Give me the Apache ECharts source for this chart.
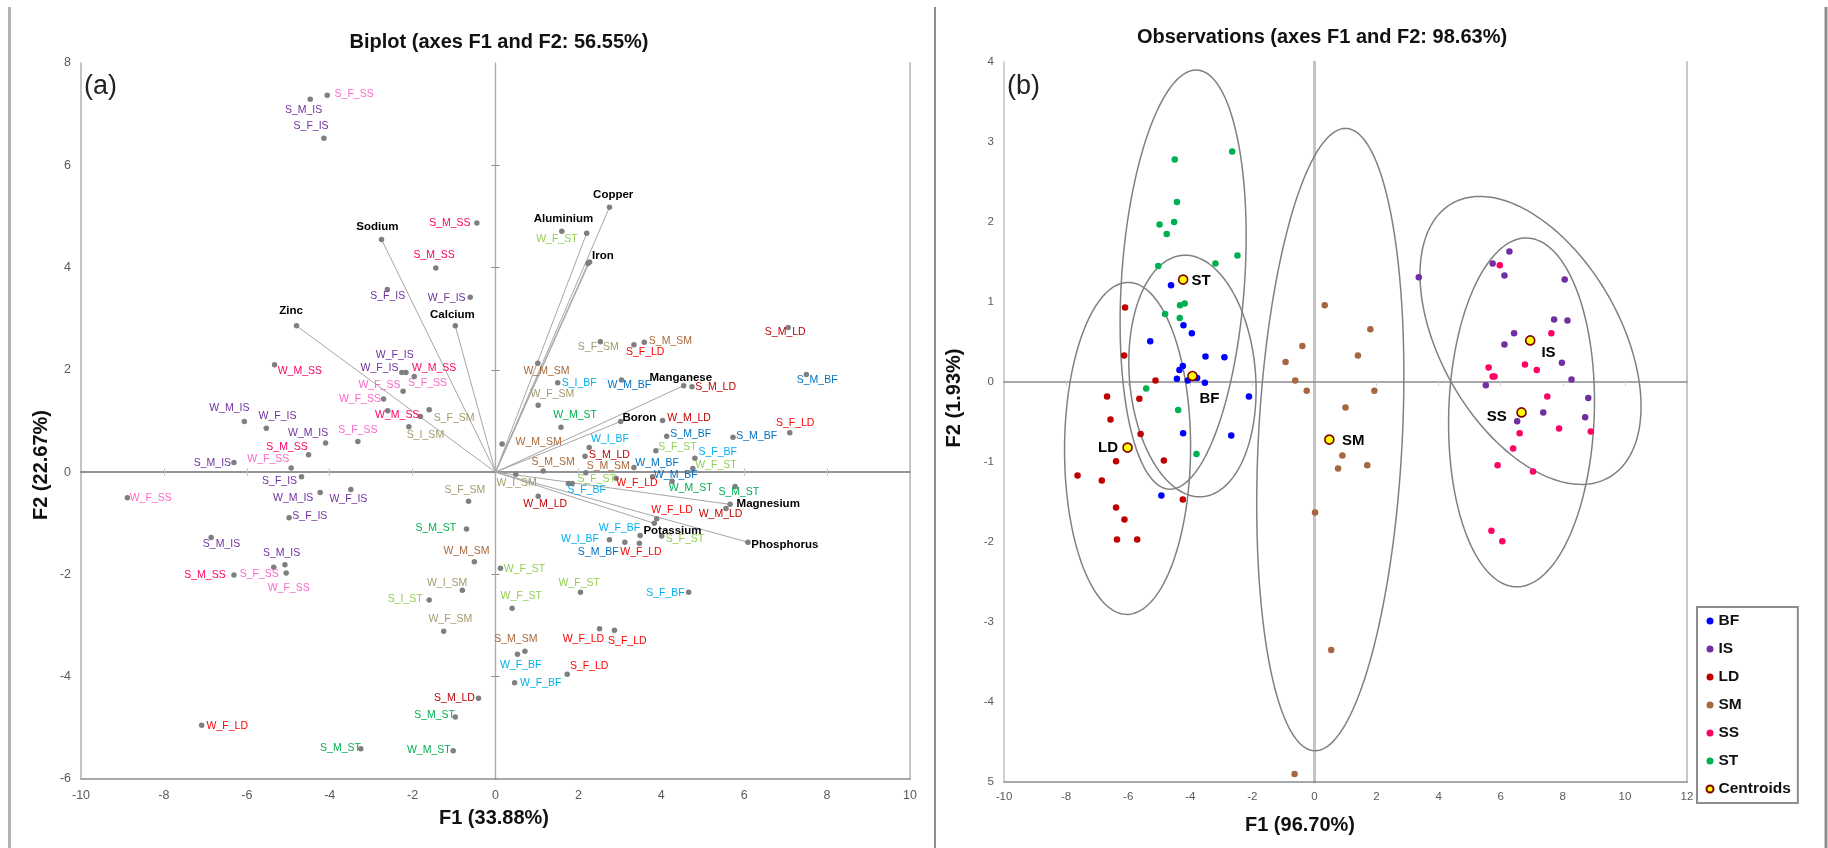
<!DOCTYPE html>
<html><head><meta charset="utf-8">
<style>html,body{margin:0;padding:0;background:#fff}#c{width:1828px;height:848px}</style>
<script src="https://cdn.jsdelivr.net/npm/echarts@6/dist/echarts.min.js"></script>
</head><body><div id="c"></div>
<script>
// ---- Panel (a): biplot ----
const obsNames = ['S_F_SS','S_M_IS','S_F_IS','S_M_SS','S_M_SS','S_F_IS','W_F_IS','W_M_SS','W_F_IS','W_F_IS','W_M_SS','W_F_SS','S_F_SS','W_M_SS','S_F_SM','S_I_SM','W_F_SS','W_M_IS','W_F_IS','W_M_IS','S_F_SS','S_M_SS','W_F_SS','S_M_IS','S_F_IS','W_M_IS','W_F_IS','W_F_SS','S_F_IS','S_M_IS','S_M_IS','S_F_SS','S_M_SS','W_F_SS','S_F_SM','S_M_ST','W_M_SM','W_I_SM','S_I_ST','W_F_SM','S_M_LD','S_M_ST','W_F_LD','S_M_ST','W_M_ST','W_F_ST','S_F_SM','S_F_LD','S_M_SM','S_M_LD','S_M_BF','W_M_SM','S_I_BF','W_M_BF','S_M_LD','W_F_SM','W_M_ST','W_M_LD','S_F_LD','W_I_BF','W_M_SM','S_M_BF','S_M_BF','S_F_ST','S_F_BF','S_M_LD','S_M_SM','S_M_SM','W_M_BF','W_F_ST','W_M_BF','W_I_SM','S_F_ST','W_F_LD','S_F_BF','W_M_ST','S_M_ST','W_M_LD','W_F_LD','W_M_LD','W_F_BF','W_I_BF','S_M_BF','W_F_LD','S_F_ST','W_F_ST','W_F_ST','W_F_ST','S_F_BF','W_F_LD','S_F_LD','S_M_SM','W_F_BF','S_F_LD','W_F_BF'];
const obsF1 = [-4.06,-4.47,-4.14,-0.45,-1.44,-2.61,-0.61,-5.33,-2.26,-2.16,-1.96,-2.23,-2.60,-1.81,-1.60,-2.09,-2.70,-6.06,-5.53,-4.10,-3.32,-4.51,-4.93,-6.31,-4.68,-4.23,-3.49,-8.88,-4.98,-6.86,-5.08,-5.35,-6.31,-5.05,-0.65,-0.70,-0.51,-0.80,-1.60,-1.25,-0.41,-0.97,-7.09,-3.25,-1.02,1.60,2.53,3.34,3.59,7.06,7.50,1.02,1.50,3.04,4.74,1.03,1.58,4.03,7.10,2.26,0.16,4.13,5.73,3.87,4.81,2.16,1.15,2.18,3.34,4.76,3.79,0.49,1.76,2.91,1.85,4.26,5.78,1.03,3.89,5.56,3.49,2.75,3.12,3.47,4.01,0.12,2.05,0.40,4.66,2.51,2.87,0.71,0.53,1.73,0.46];
const obsF2 = [7.37,7.29,6.53,4.87,3.99,3.57,3.42,2.10,1.95,1.95,1.87,1.58,1.20,1.09,1.22,0.89,1.43,0.99,0.86,0.57,0.60,0.34,0.08,0.19,-0.09,-0.40,-0.34,-0.50,-0.89,-1.28,-1.81,-1.86,-2.01,-1.97,-0.57,-1.11,-1.75,-2.31,-2.50,-3.11,-4.42,-4.79,-4.95,-5.41,-5.45,4.71,2.55,2.49,2.54,2.83,1.91,2.13,1.75,1.80,1.67,1.31,0.88,1.01,0.77,0.48,0.55,0.70,0.68,0.42,0.27,0.31,0.02,-0.01,0.09,0.07,-0.09,-0.04,-0.22,-0.12,-0.22,-0.18,-0.28,-0.47,-0.91,-0.71,-1.24,-1.32,-1.37,-1.39,-1.25,-1.88,-2.35,-2.66,-2.35,-3.06,-3.09,-3.50,-3.56,-3.95,-4.12];
const obsLabelF1 = [-3.41,-4.63,-4.45,-1.10,-1.48,-2.60,-1.18,-4.72,-2.43,-2.80,-1.48,-2.80,-1.64,-2.37,-1.00,-1.69,-3.27,-6.42,-5.26,-4.52,-3.32,-5.03,-5.48,-6.83,-5.21,-4.88,-3.55,-8.32,-4.48,-6.61,-5.16,-5.70,-7.01,-4.99,-0.74,-1.44,-0.70,-1.17,-2.18,-1.09,-0.99,-1.47,-6.47,-3.74,-1.61,1.48,2.48,3.61,4.22,6.99,7.76,1.23,2.02,3.23,5.31,1.37,1.92,4.67,7.23,2.76,1.04,4.71,6.30,4.39,5.36,2.75,1.39,2.72,3.90,5.32,4.35,0.51,2.44,3.41,2.20,4.71,5.87,1.20,4.26,5.43,2.99,2.04,2.48,3.51,4.57,0.70,2.02,0.62,4.10,2.12,3.18,0.49,0.61,2.26,1.09];
const obsLabelF2 = [7.39,7.08,6.77,4.87,4.25,3.45,3.41,1.98,2.29,2.04,2.04,1.71,1.74,1.12,1.06,0.73,1.43,1.25,1.10,0.77,0.83,0.49,0.25,0.18,-0.17,-0.50,-0.52,-0.51,-0.86,-1.41,-1.58,-1.99,-2.01,-2.26,-0.35,-1.09,-1.54,-2.16,-2.48,-2.87,-4.41,-4.76,-4.96,-5.39,-5.43,4.56,2.44,2.35,2.57,2.74,1.80,1.98,1.74,1.71,1.67,1.52,1.12,1.06,0.96,0.65,0.58,0.75,0.71,0.49,0.40,0.34,0.20,0.12,0.18,0.14,-0.05,-0.22,-0.13,-0.22,-0.35,-0.31,-0.40,-0.62,-0.75,-0.82,-1.09,-1.30,-1.56,-1.56,-1.31,-1.89,-2.16,-2.42,-2.36,-3.26,-3.30,-3.26,-3.77,-3.79,-4.12];
const varNames = ['Copper','Aluminium','Iron','','Sodium','Calcium','Zinc','Manganese','Boron','Magnesium','Potassium','Phosphorus'];
const varF1 = [2.75,2.20,2.23,2.27,-2.75,-0.97,-4.80,4.54,3.02,5.66,3.83,6.09];
const varF2 = [5.18,4.67,4.08,4.11,4.55,2.86,2.86,1.69,0.99,-0.63,-1.00,-1.37];
const varLabelF1 = [2.84,1.64,2.59,2.59,-2.85,-1.04,-4.93,4.47,3.47,6.58,4.27,6.98];
const varLabelF2 = [5.43,4.95,4.23,4.23,4.79,3.07,3.15,1.84,1.07,-0.62,-1.14,-1.42];
const labelColourBySuffix = {M_ST:'#00b050',F_ST:'#92d050',I_ST:'#92d050',M_SM:'#a8693a',F_SM:'#a39a6c',I_SM:'#a39a6c',M_BF:'#0070c0',F_BF:'#00b0f0',I_BF:'#00b0f0',M_LD:'#c00000',F_LD:'#ff0000',M_IS:'#7030a0',F_IS:'#7030a0',M_SS:'#ff0066',F_SS:'#ff66cc'};
const biplotXTicks = [-8,-6,-4,-2,2,4,6,8];
const biplotYTicks = [-4,-2,2,4,6];

// ---- Panel (b): observations ----
const groups = ['BF','IS','LD','SM','SS','ST'];
const groupColours = ['#0000ff','#7030a0','#c00000','#a5673f','#ff0066','#00b050'];
const bfF1 = [-4.62,-4.22,-3.95,-5.29,-3.51,-2.90,-4.24,-4.35,-4.43,-4.08,-3.78,-3.53,-2.11,-4.23,-2.68,-4.93];
const bfF2 = [1.21,0.71,0.61,0.51,0.32,0.31,0.20,0.15,0.04,0.02,0.05,-0.01,-0.18,-0.64,-0.67,-1.42];
const isF1 = [6.28,5.74,6.12,3.36,8.06,7.72,8.15,6.43,6.12,7.97,8.28,5.52,8.82,7.37,8.72,6.53];
const isF2 = [1.63,1.48,1.33,1.31,1.28,0.78,0.77,0.61,0.47,0.24,0.03,-0.04,-0.20,-0.38,-0.44,-0.49];
const ldF1 = [-6.10,-6.13,-5.12,-6.68,-5.64,-6.57,-5.60,-4.85,-6.39,-7.63,-6.85,-4.24,-6.39,-6.12,-6.36,-5.71];
const ldF2 = [0.93,0.33,0.02,-0.18,-0.21,-0.47,-0.65,-0.98,-0.99,-1.17,-1.23,-1.47,-1.57,-1.72,-1.97,-1.97];
const smF1 = [0.33,1.80,-0.39,1.40,-0.93,-0.62,-0.25,1.93,1.00,0.90,1.70,0.76,0.02,0.54,-0.64];
const smF2 = [0.96,0.66,0.45,0.33,0.25,0.02,-0.11,-0.11,-0.32,-0.92,-1.04,-1.08,-1.63,-3.35,-4.90];
const ssF1 = [5.97,7.63,6.78,5.61,7.16,5.74,5.80,7.50,7.88,8.90,6.61,6.40,5.90,7.04,5.70,6.05];
const ssF2 = [1.46,0.61,0.22,0.18,0.15,0.07,0.07,-0.18,-0.58,-0.62,-0.64,-0.83,-1.04,-1.12,-1.86,-1.99];
const stF1 = [-2.65,-4.50,-4.43,-4.52,-4.99,-4.76,-2.48,-3.19,-5.03,-4.33,-4.18,-4.81,-4.34,-5.42,-4.39,-3.80];
const stF2 = [2.88,2.78,2.25,2.00,1.97,1.85,1.58,1.48,1.45,0.96,0.98,0.85,0.80,-0.08,-0.35,-0.90];
const centroidNames = ['ST','BF','LD','SM','IS','SS'];
const centroidF1 = [-4.23,-3.93,-6.02,0.48,6.95,6.67];
const centroidF2 = [1.28,0.075,-0.82,-0.72,0.52,-0.38];
const centroidLabelF1 = [-3.65,-3.38,-6.65,1.25,7.54,5.87];
const centroidLabelF2 = [1.27,-0.21,-0.825,-0.73,0.36,-0.43];
// Confidence ellipses: centre, half width, half height,
// and how far along the half width the topmost point sits.
const ellipseF1 = [-4.23,-3.93,-6.02,0.51,6.96,6.67];
const ellipseF2 = [1.28,0.075,-0.83,-0.72,0.52,-0.38];
const ellipseHalfWidth = [2.03,2.05,2.03,2.37,3.56,2.35];
const ellipseHalfHeight = [2.62,1.51,2.075,3.89,1.80,2.18];
const ellipseTopShift = [0.206,-0.115,0.01,0.207,-0.458,0.064];
const obsXTicks = [-8,-6,-4,-2,2,4,6,8,10];
const obsYTickText = {'-5':'5'};

const SANS = '"Liberation Sans", Arial, sans-serif';
const zip = (xs, ys) => xs.map((x, i) => [x, ys[i]]);
const GRID_A = 0, GRID_B = 1;

function axisPair(dim, grid, base) {
  const mainLine = dim === 'x' ? {position:'bottom'} : {position:'left'};
  return Object.assign({
    type:'value', gridIndex:grid, min:base.min, max:base.max, interval:base.interval,
    splitLine:{show:false}, axisTick:{show:false},
    axisLine:{show:true, onZero:false, lineStyle:{color:base.lineColour, width:1.5}},
    axisLabel:{show:true, color:'#595959', fontFamily:SANS, fontSize:base.fontSize, margin:base.margin,
      showMinLabel:true, showMaxLabel:true, hideOverlap:false,
      formatter:v => base.text && base.text[v] !== undefined ? base.text[v] : String(v)}
  }, mainLine);
}
function zeroAxis(dim, grid, base, otherIndex, tick, inside) {
  return {
    type:'value', gridIndex:grid, min:base.min, max:base.max, interval:base.interval,
    position: dim === 'x' ? 'bottom' : 'left',
    splitLine:{show:false}, axisLabel:{show:false},
    axisLine:{show:true, onZero:true, onZeroAxisIndex:otherIndex, lineStyle:{color:tick.lineColour, width:tick.lineWidth}},
    axisTick:{show:tick.ticks.length>0, inside:inside, length:tick.length, customValues:tick.ticks, lineStyle:{color:tick.colour}}
  };
}
function farYAxis(grid, base, colour) {
  return {type:'value', gridIndex:grid, min:base.min, max:base.max, interval:base.interval, position:'right',
    splitLine:{show:false}, axisLabel:{show:false}, axisTick:{show:false},
    axisLine:{show:true, onZero:false, lineStyle:{color:colour, width:2}}};
}
const aX = {min:-10,max:10,interval:2,lineColour:'#8c8c8c',fontSize:12.5,margin:10};
const aY = {min:-6,max:8,interval:2,lineColour:'#b0b0b0',fontSize:12.5,margin:10};
const bX = {min:-10,max:12,interval:2,lineColour:'#8c8c8c',fontSize:11.5,margin:9};
const bY = {min:-5,max:4,interval:1,lineColour:'#c0c0c0',fontSize:11.5,margin:10,text:obsYTickText};

const xAxes = [
  axisPair('x',GRID_A,aX),
  axisPair('x',GRID_B,bX),
  zeroAxis('x',GRID_A,aX,0,{lineColour:'#8c8c8c',lineWidth:1.5,ticks:biplotXTicks,length:4,colour:'#c8c8c8'},false),
  zeroAxis('x',GRID_A,aX,0,{lineColour:'#8c8c8c',lineWidth:1.5,ticks:biplotXTicks,length:4,colour:'#c8c8c8'},true),
  zeroAxis('x',GRID_B,bX,1,{lineColour:'#8c8c8c',lineWidth:1.5,ticks:obsXTicks,length:4,colour:'#d0d0d0'},false)
];
const yAxes = [
  axisPair('y',GRID_A,aY),
  axisPair('y',GRID_B,bY),
  zeroAxis('y',GRID_A,aY,0,{lineColour:'#ababab',lineWidth:1.2,ticks:biplotYTicks,length:4,colour:'#8c8c8c'},false),
  zeroAxis('y',GRID_A,aY,0,{lineColour:'#ababab',lineWidth:1.2,ticks:biplotYTicks,length:4,colour:'#8c8c8c'},true),
  zeroAxis('y',GRID_B,bY,1,{lineColour:'#c4c4c4',lineWidth:3,ticks:[],length:0,colour:'#c4c4c4'},false),
  farYAxis(GRID_A,aY,'#c8c8c8'),
  farYAxis(GRID_B,bY,'#c8c8c8')
];

function textSeries(name, axis, xs, ys, names, colourOf, font) {
  return {
    type:'scatter', name, xAxisIndex:axis, yAxisIndex:axis, symbolSize:1, silent:true, z:6,
    itemStyle:{color:'rgba(0,0,0,0)',opacity:1},
    data: names.map((n,i) => ({value:[xs[i],ys[i]], name:n,
      label:{show:true, position:'inside', align:'center', verticalAlign:'middle', formatter:n,
        color:colourOf(n), fontFamily:SANS, fontSize:font.size, fontWeight:font.weight}}))
  };
}

const series = [];
varNames.forEach((n,i) => series.push({
  type:'line', name:'vector'+i, xAxisIndex:0, yAxisIndex:0, silent:true, symbol:'none', z:3,
  lineStyle:{color:'#a6a6a6', width:1},
  data:[[0,0],[varF1[i],varF2[i]]]
}));
series.push({type:'scatter', name:'variables', xAxisIndex:0, yAxisIndex:0, silent:true, z:4, symbolSize:5.5,
  itemStyle:{color:'#7f7f7f',opacity:1}, data:zip(varF1,varF2)});
series.push({type:'scatter', name:'observationsA', xAxisIndex:0, yAxisIndex:0, silent:true, z:4, symbolSize:5.5,
  itemStyle:{color:'#7f7f7f',opacity:1}, data:zip(obsF1,obsF2)});
series.push(textSeries('obsLabels',0,obsLabelF1,obsLabelF2,obsNames,n=>labelColourBySuffix[n.slice(2)],{size:10.5,weight:'normal'}));
series.push(textSeries('varLabels',0,varLabelF1.filter((_,i)=>varNames[i]),varLabelF2.filter((_,i)=>varNames[i]),varNames.filter(n=>n),()=>'#000',{size:11.5,weight:'bold'}));

series.push({
  type:'custom', name:'ellipses', xAxisIndex:1, yAxisIndex:1, silent:true, z:2, clip:true,
  encode:{x:0,y:1},
  data: ellipseF1.map((cx,i)=>[cx,ellipseF2[i],ellipseHalfWidth[i],ellipseHalfHeight[i],ellipseTopShift[i]]),
  renderItem(params, api){
    const cx=api.value(0), cy=api.value(1), ax=api.value(2), ay=api.value(3), r=api.value(4);
    const s=Math.sqrt(1-r*r), pts=[];
    for(let k=0;k<=180;k++){
      const t=k/180*Math.PI*2;
      pts.push(api.coord([cx+ax*Math.cos(t), cy+ay*(r*Math.cos(t)+s*Math.sin(t))]));
    }
    return {type:'polyline', shape:{points:pts}, style:{fill:null, stroke:'#808080', lineWidth:1.5}};
  }
});
const groupData = [zip(bfF1,bfF2),zip(isF1,isF2),zip(ldF1,ldF2),zip(smF1,smF2),zip(ssF1,ssF2),zip(stF1,stF2)];
groups.forEach((g,i)=>series.push({type:'scatter', name:g, xAxisIndex:1, yAxisIndex:1, silent:true, z:4,
  symbol:'circle', symbolSize:6.5, itemStyle:{color:groupColours[i],opacity:1}, data:groupData[i]}));
series.push({type:'scatter', name:'Centroids', xAxisIndex:1, yAxisIndex:1, silent:true, z:5,
  symbol:'circle', symbolSize:9, itemStyle:{color:'#ffff00', borderColor:'#800000', borderWidth:1.6, opacity:1}, data:zip(centroidF1,centroidF2)});
series.push(textSeries('centroidLabels',1,centroidLabelF1,centroidLabelF2,centroidNames,()=>'#000',{size:15,weight:'bold'}));

const frame = [[9.5,7,9.5,848,'#b4b4b4',3],[935,7,935,848,'#8e8e8e',2],[1826,7,1826,848,'#8e8e8e',3]];
const axisTitles = [
  {text:'F1 (33.88%)',x:494,y:818,rot:0},{text:'F1 (96.70%)',x:1300,y:825,rot:0},
  {text:'F2 (22.67%)',x:41,y:465,rot:90},{text:'F2 (1.93%)',x:954,y:398,rot:90}
];
const graphic = frame.map(f=>({type:'line',silent:true,z:0,shape:{x1:f[0],y1:f[1],x2:f[2],y2:f[3]},style:{stroke:f[4],lineWidth:f[5]}}))
 .concat(axisTitles.map(t=>({type:'text',silent:true,x:t.x,y:t.y,rotation:t.rot*Math.PI/180,
   style:{text:t.text,fill:'#111',font:'bold 20px '+SANS,textAlign:'center',textVerticalAlign:'middle'}})))
 .concat([{type:'text',silent:true,x:84,y:87,style:{text:'(a)',fill:'#222',font:'27px '+SANS,textVerticalAlign:'middle'}},
          {type:'text',silent:true,x:1007,y:87,style:{text:'(b)',fill:'#222',font:'27px '+SANS,textVerticalAlign:'middle'}}]);

const chart = echarts.init(document.getElementById('c'),null,{renderer:'canvas',width:1828,height:848});
chart.setOption({
  animation:false, backgroundColor:'#fff', tooltip:{show:false},
  title:[
    {text:'Biplot (axes F1 and F2: 56.55%)',left:494,top:27,textAlign:'center',textStyle:{fontFamily:SANS,fontSize:20,fontWeight:'bold',color:'#111'}},
    {text:'Observations (axes F1 and F2: 98.63%)',left:1317,top:22,textAlign:'center',textStyle:{fontFamily:SANS,fontSize:20,fontWeight:'bold',color:'#111'}}
  ],
  grid:[{left:81,top:63,width:829,height:716},{left:1004,top:62,width:683,height:720}],
  xAxis:xAxes, yAxis:yAxes, series, graphic,
  legend:{
    data:groups.concat(['Centroids']), orient:'vertical', left:1697, top:607, selectedMode:false,
    backgroundColor:'#fff', borderColor:'#8c8c8c', borderWidth:2, borderRadius:0,
    padding:[6,7,6,8.5], itemWidth:7, itemHeight:7, itemGap:12,
    textStyle:{fontFamily:SANS,fontSize:15.5,fontWeight:'bold',color:'#111'}
  }
});
</script></body></html>
